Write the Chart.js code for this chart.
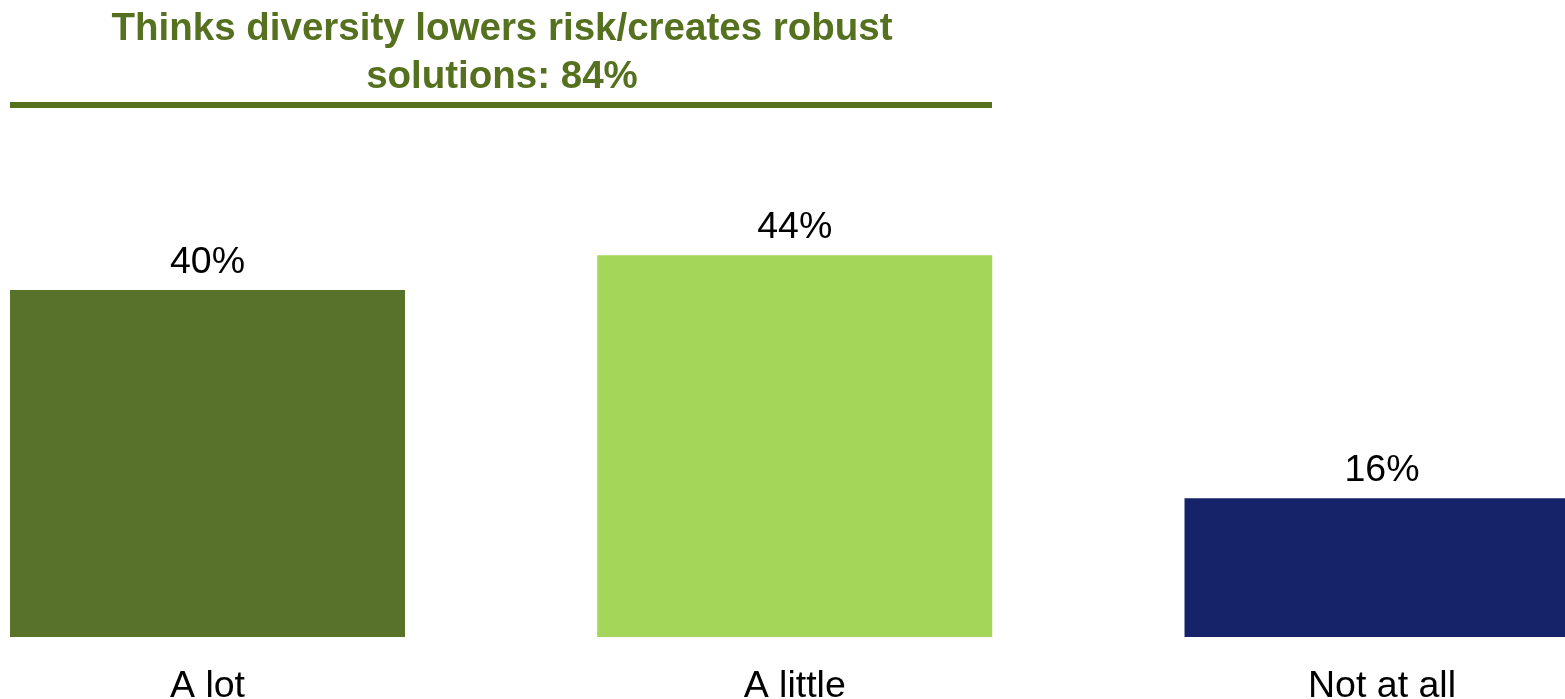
<!DOCTYPE html>
<html>
<head>
<meta charset="utf-8">
<script src="https://cdn.jsdelivr.net/npm/chart.js@4/dist/chart.umd.min.js"></script>
<style>
  html, body { margin: 0; padding: 0; background: #fff; overflow: hidden; }
  #wrap { position: relative; width: 1565px; height: 699px; }
</style>
</head>
<body>
<div id="wrap"><canvas id="diversityChart"></canvas></div>
<script>
const categories = ["A lot", "A little", "Not at all"];
const shares = [40, 44, 16];
const barColors = ["#587229", "#A4D65A", "#172369"];
const titleLines = ["Thinks diversity lowers risk/creates robust", "solutions: 84%"];

const FONT = "'Liberation Sans', Arial, sans-serif";
const TITLE_GREEN = "#55701F";

// title + rule above the bars
const headerPlugin = {
    id: "header",
    afterDraw(chart) {
        const ctx = chart.ctx;
        ctx.save();
        ctx.fillStyle = TITLE_GREEN;
        ctx.font = "bold 38.5px " + FONT;
        ctx.textAlign = "center";
        ctx.textBaseline = "alphabetic";
        ctx.fillText(titleLines[0], 502, 40);
        ctx.fillText(titleLines[1], 502, 88);
        ctx.fillRect(10, 102, 982, 6);
        ctx.restore();
    }
};

// percentage labels over each bar
const valueLabels = {
    id: "valueLabels",
    afterDatasetsDraw(chart) {
        const ctx = chart.ctx;
        const meta = chart.getDatasetMeta(0);
        ctx.save();
        ctx.fillStyle = "#000";
        ctx.font = "37.5px " + FONT;
        ctx.textAlign = "center";
        ctx.textBaseline = "alphabetic";
        meta.data.forEach((bar, i) => {
            ctx.fillText(shares[i] + "%", bar.x, bar.y - 17);
        });
        ctx.restore();
    }
};

new Chart(document.getElementById("diversityChart"), {
    type: "bar",
    data: {
        labels: categories,
        datasets: [{
            data: shares,
            backgroundColor: barColors,
            borderWidth: 0,
            categoryPercentage: 1,
            barPercentage: 0.6726,
            clip: false
        }]
    },
    options: {
        responsive: true,
        maintainAspectRatio: false,
        animation: false,
        layout: {
            padding: { left: 207.5, right: 183, top: 116.5, bottom: 0 }
        },
        plugins: {
            legend: { display: false },
            tooltip: { enabled: false },
            title: { display: false }
        },
        scales: {
            x: {
                offset: false,
                grid: { display: false, drawTicks: false },
                border: { display: false },
                ticks: {
                    color: "#000",
                    font: { family: FONT, size: 37.5 },
                    padding: 27,
                    maxRotation: 0,
                    autoSkip: false
                },
                afterFit(scale) { scale.height = 62; }
            },
            y: {
                display: false,
                min: 0,
                max: 60
            }
        }
    },
    plugins: [headerPlugin, valueLabels]
});
</script>
</body>
</html>
